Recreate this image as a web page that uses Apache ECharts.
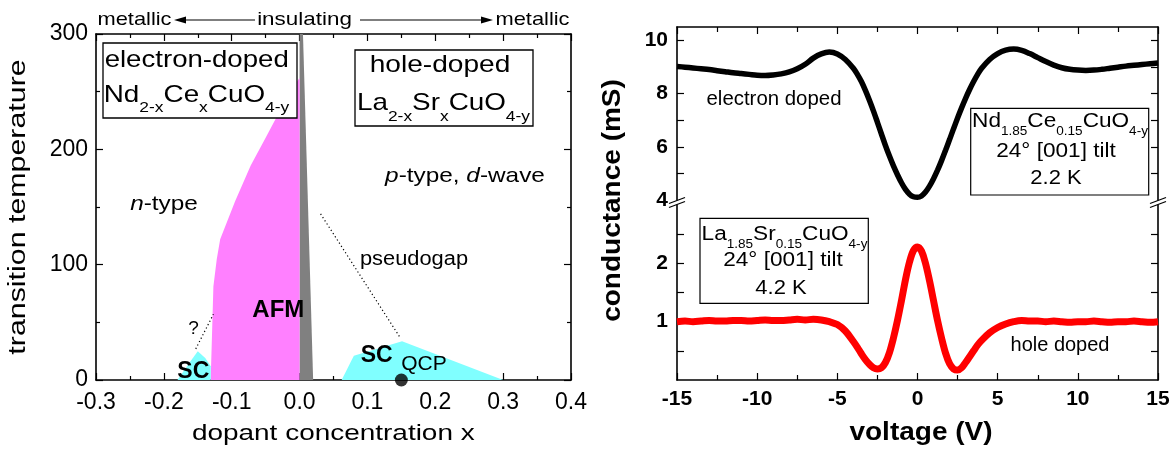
<!DOCTYPE html>
<html>
<head>
<meta charset="utf-8">
<script src="https://cdn.jsdelivr.net/npm/echarts@6/dist/echarts.min.js"></script>
<style>
  html, body { margin: 0; padding: 0; background: #fff; }
  #chart { width: 1174px; height: 453px; }
</style>
</head>
<body>
<div id="chart"></div>
<script>
// ---------- phase diagram (left panel), points as [x, T] ----------
const afmNdCe = [[-0.131, 0], [-0.129, 40], [-0.127, 81], [-0.122, 105], [-0.117, 122], [-0.095, 155],
                 [-0.072, 186], [-0.05, 210], [-0.033, 229], [-0.015, 248], [0, 262], [0, 0]];
const afmLaSr = [[0, 0], [0, 300], [0.005, 300], [0.02, 0]];
const scNdCe  = [[-0.18, 0], [-0.161, 16], [-0.15, 25], [-0.139, 19], [-0.131, 12], [-0.131, 0]];
const scLaSr  = [[0.062, 0], [0.08, 21], [0.151, 33.5], [0.3, 0]];
const pseudogapGuide = [[0.031, 144], [0.149, 36]];
const questionGuide  = [[-0.153, 27], [-0.127, 57]];
const qcpPoint = [[0.15, 0]];

// ---------- tunneling conductance (right panel) ----------
const voltage = [
  -15, -14.5, -14, -13.5, -13, -12.5, -12, -11.5, -11, -10.5, -10, -9.5, -9, -8.5, -8, -7.5, -7, -6.5, -6, -5.5, -5, -4.5,
  -4, -3.75, -3.5, -3.25, -3, -2.75, -2.5, -2.25, -2, -1.75, -1.5, -1.25, -1, -0.75, -0.5, -0.25,
  0, 0.25, 0.5, 0.75, 1, 1.25, 1.5, 1.75, 2, 2.25, 2.5, 2.75, 3, 3.25, 3.5, 3.75, 4,
  4.5, 5, 5.5, 6, 6.5, 7, 7.5, 8, 8.5, 9, 9.5, 10, 10.5, 11, 11.5, 12, 12.5, 13, 13.5, 14, 14.5, 15
];
// Nd1.85Ce0.15CuO4-y, mS
const gElectronDoped = [
  9.02, 8.99, 8.96, 8.93, 8.90, 8.86, 8.82, 8.78, 8.75, 8.72, 8.69, 8.68, 8.70, 8.74, 8.81, 8.93, 9.10, 9.33, 9.49, 9.56, 9.49, 9.28,
  8.95, 8.72, 8.45, 8.12, 7.75, 7.35, 6.92, 6.48, 6.05, 5.65, 5.28, 4.95, 4.65, 4.40, 4.22, 4.12,
  4.10, 4.15, 4.30, 4.52, 4.80, 5.12, 5.48, 5.87, 6.27, 6.68, 7.08, 7.46, 7.82, 8.15, 8.45, 8.72, 8.95,
  9.28, 9.50, 9.63, 9.67, 9.62, 9.50, 9.35, 9.20, 9.07, 8.97, 8.91, 8.88, 8.87, 8.88, 8.91, 8.95, 8.99, 9.03, 9.06, 9.09, 9.12, 9.15
];
// La1.85Sr0.15CuO4-y, mS
const gHoleDoped = [
  1.00, 1.01, 1.00, 1.01, 1.02, 1.01, 1.01, 1.02, 1.02, 1.01, 1.02, 1.03, 1.02, 1.02, 1.03, 1.04, 1.03, 1.04, 1.03, 1.00, 0.95, 0.84,
  0.66, 0.56, 0.45, 0.35, 0.27, 0.21, 0.19, 0.21, 0.30, 0.47, 0.72, 1.02, 1.36, 1.72, 2.02, 2.22,
  2.28, 2.21, 2.00, 1.70, 1.36, 1.02, 0.72, 0.46, 0.28, 0.19, 0.17, 0.21, 0.30, 0.40, 0.50, 0.60, 0.68,
  0.81, 0.90, 0.96, 1.00, 1.02, 1.01, 1.01, 1.00, 1.01, 1.00, 0.99, 1.00, 1.00, 1.01, 1.00, 0.99, 1.00, 1.00, 1.01, 1.00, 0.99, 1.00
];

// axis ticks / labels
const dopingRange = { min: -0.3, max: 0.4, interval: 0.1 };
const tempRange = { min: 0, max: 300, interval: 100 };
const voltRange = { min: -15, max: 15, interval: 5 };
const upperTicks = [5, 6, 7, 8, 9, 10];
const upperLabels = [4, 6, 8, 10];
const lowerTicks = [0.5, 1, 1.5, 2, 2.5];
const lowerLabels = [1, 2];

const FONT = '"Liberation Sans", Arial, Helvetica, sans-serif';
const chart = echarts.init(document.getElementById('chart'), null, { renderer: 'canvas' });

const axLine = { show: true, onZero: false, lineStyle: { color: '#000', width: 1.6 } };
const tickSt = { color: '#000', width: 1.2 };
const noSplit = { show: false };

function fmt1(v) { return (Math.abs(v) < 1e-9 ? 0 : v).toFixed(1); }

function polygonSeries(points, color, z) {
  return {
    type: 'custom', xAxisIndex: 0, yAxisIndex: 0, data: points, z: z, silent: true,
    encode: { x: 0, y: 1 },
    renderItem: function (params, api) {
      if (params.dataIndex !== 0) return null;
      return {
        type: 'polygon',
        shape: { points: points.map(function (p) { return api.coord(p); }) },
        style: { fill: color }
      };
    }
  };
}

function pairs(xs, ys) { return xs.map(function (x, i) { return [x, ys[i]]; }); }

chart.setOption({
  animation: false,
  backgroundColor: '#fff',
  grid: [
    { left: 96, top: 34, width: 475, height: 346, containLabel: false, outerBoundsMode: 'none' },
    { left: 677, top: 27, width: 481, height: 173, containLabel: false, outerBoundsMode: 'none' },
    { left: 677, top: 205, width: 481, height: 175, containLabel: false, outerBoundsMode: 'none' }
  ],
  xAxis: [
    { gridIndex: 0, type: 'value', position: 'bottom', min: dopingRange.min, max: dopingRange.max, interval: dopingRange.interval,
      axisLine: axLine, axisTick: { show: true, inside: true, length: 7, lineStyle: tickSt },
      minorTick: { show: true, splitNumber: 2, length: 4, lineStyle: tickSt },
      axisLabel: { show: true, margin: 11, fontSize: 23, color: '#000', fontFamily: FONT, formatter: fmt1,
                   showMinLabel: true, showMaxLabel: true, hideOverlap: false },
      splitLine: noSplit, minorSplitLine: noSplit },
    { gridIndex: 0, type: 'value', position: 'top', min: dopingRange.min, max: dopingRange.max, interval: dopingRange.interval,
      axisLine: axLine, axisTick: { show: true, inside: true, length: 7, lineStyle: tickSt },
      minorTick: { show: true, splitNumber: 2, length: 4, lineStyle: tickSt },
      axisLabel: { show: false }, splitLine: noSplit, minorSplitLine: noSplit },
    { gridIndex: 1, type: 'value', position: 'top', min: voltRange.min, max: voltRange.max, interval: voltRange.interval,
      axisLine: axLine, axisTick: { show: true, inside: true, length: 7, lineStyle: tickSt },
      minorTick: { show: true, splitNumber: 2, length: 5, lineStyle: tickSt },
      axisLabel: { show: false }, splitLine: noSplit, minorSplitLine: noSplit },
    { gridIndex: 2, type: 'value', position: 'bottom', min: voltRange.min, max: voltRange.max, interval: voltRange.interval,
      axisLine: axLine, axisTick: { show: true, inside: true, length: 7, lineStyle: tickSt },
      minorTick: { show: true, splitNumber: 2, length: 5, lineStyle: tickSt },
      axisLabel: { show: true, margin: 9, fontSize: 21, fontWeight: 'bold', color: '#000', fontFamily: FONT,
                   showMinLabel: true, showMaxLabel: true, hideOverlap: false },
      splitLine: noSplit, minorSplitLine: noSplit }
  ],
  yAxis: [
    { gridIndex: 0, type: 'value', position: 'left', min: tempRange.min, max: tempRange.max, interval: tempRange.interval,
      axisLine: axLine, axisTick: { show: true, inside: true, length: 7, lineStyle: tickSt },
      minorTick: { show: true, splitNumber: 2, length: 4, lineStyle: tickSt },
      axisLabel: { show: true, margin: 8, fontSize: 23, color: '#000', fontFamily: FONT,
                   showMinLabel: true, showMaxLabel: true, hideOverlap: false },
      splitLine: noSplit, minorSplitLine: noSplit },
    { gridIndex: 0, type: 'value', position: 'right', min: tempRange.min, max: tempRange.max, interval: tempRange.interval,
      axisLine: axLine, axisTick: { show: true, inside: true, length: 7, lineStyle: tickSt },
      minorTick: { show: true, splitNumber: 2, length: 4, lineStyle: tickSt },
      axisLabel: { show: false }, splitLine: noSplit, minorSplitLine: noSplit },
    { gridIndex: 1, type: 'value', position: 'left', min: 4, max: 10.5,
      axisLine: axLine, axisTick: { show: true, inside: true, length: 7, lineStyle: tickSt, customValues: upperTicks },
      axisLabel: { show: true, margin: 9, fontSize: 21, fontWeight: 'bold', color: '#000', fontFamily: FONT,
                   customValues: upperLabels, hideOverlap: false },
      splitLine: noSplit },
    { gridIndex: 1, type: 'value', position: 'right', min: 4, max: 10.5,
      axisLine: axLine, axisTick: { show: true, inside: true, length: 7, lineStyle: tickSt, customValues: upperTicks },
      axisLabel: { show: false }, splitLine: noSplit },
    { gridIndex: 2, type: 'value', position: 'left', min: 0, max: 3,
      axisLine: axLine, axisTick: { show: true, inside: true, length: 7, lineStyle: tickSt, customValues: lowerTicks },
      axisLabel: { show: true, margin: 9, fontSize: 21, fontWeight: 'bold', color: '#000', fontFamily: FONT,
                   customValues: lowerLabels, hideOverlap: false },
      splitLine: noSplit },
    { gridIndex: 2, type: 'value', position: 'right', min: 0, max: 3,
      axisLine: axLine, axisTick: { show: true, inside: true, length: 7, lineStyle: tickSt, customValues: lowerTicks },
      axisLabel: { show: false }, splitLine: noSplit }
  ],
  series: [
    polygonSeries(afmLaSr, '#808080', 1),
    polygonSeries(afmNdCe, '#ff80ff', 2),
    polygonSeries(scNdCe, '#80ffff', 2),
    polygonSeries(scLaSr, '#80ffff', 2),
    { type: 'line', xAxisIndex: 0, yAxisIndex: 0, data: pseudogapGuide, symbol: 'none', silent: true, z: 3,
      lineStyle: { color: '#000', width: 1.2, type: [1.2, 2.6] } },
    { type: 'line', xAxisIndex: 0, yAxisIndex: 0, data: questionGuide, symbol: 'none', silent: true, z: 3,
      lineStyle: { color: '#000', width: 1.2, type: [1.2, 2.6] } },
    { type: 'scatter', xAxisIndex: 0, yAxisIndex: 0, data: qcpPoint, symbol: 'circle', symbolSize: 13, clip: false,
      silent: true, z: 4, itemStyle: { color: '#000' } },
    { type: 'line', xAxisIndex: 2, yAxisIndex: 2, data: pairs(voltage, gElectronDoped), showSymbol: false, symbol: 'none',
      smooth: 0.35, silent: true, z: 3, lineStyle: { color: '#000', width: 5.5 } },
    { type: 'line', xAxisIndex: 3, yAxisIndex: 4, data: pairs(voltage, gHoleDoped), showSymbol: false, symbol: 'none',
      smooth: 0.35, silent: true, z: 3, lineStyle: { color: '#ff0000', width: 7 } }
  ]
});

// ---------- text and decorations ----------
const measureCtx = document.createElement('canvas').getContext('2d');
function fontStr(fs, bold, italic) { return (italic ? 'italic ' : '') + (bold ? 'bold ' : '') + fs + 'px ' + FONT; }
function textWidth(t, fs, bold, italic) { measureCtx.font = fontStr(fs, bold, italic); return measureCtx.measureText(t).width; }

// A line of text whose baseline centre sits at (x, y); parts may be subscripts or italic.
function label(parts, x, y, o) {
  o = Object.assign({ fs: 20, subFs: 12, drop: 8, sx: 1, bold: false, rot: 0, align: 'center' }, o || {});
  const items = parts.map(function (p) { return typeof p === 'string' ? { t: p } : p; });
  let total = 0;
  items.forEach(function (p) {
    p.fs = p.sub ? o.subFs : o.fs;
    p.w = textWidth(p.t, p.fs, o.bold, p.it);
    total += p.w;
  });
  let cx = o.align === 'center' ? -total / 2 : 0;
  const children = items.map(function (p) {
    const el = {
      type: 'text', x: cx, y: (p.sub ? o.drop : 0) - 0.35 * p.fs, z: 60, silent: true,
      style: { text: p.t, font: fontStr(p.fs, o.bold, p.it), fill: '#000',
               align: 'left', verticalAlign: 'middle', textAlign: 'left', textVerticalAlign: 'middle' }
    };
    cx += p.w;
    return el;
  });
  return { type: 'group', x: x, y: y, rotation: o.rot, scaleX: o.sx, children: children };
}

function box(x, y, w, h, lw) {
  return { type: 'rect', z: 50, silent: true, shape: { x: x, y: y, width: w, height: h },
           style: { fill: '#fff', stroke: '#000', lineWidth: lw || 1.3 } };
}

function axisBreak(x, y) {
  const d = 2, hx = 8, hy = 3;
  return [
    { type: 'polygon', z: 55, silent: true,
      shape: { points: [[x - hx, y + hy - d], [x + hx, y - hy - d], [x + hx, y - hy + d], [x - hx, y + hy + d]] },
      style: { fill: '#fff' } },
    { type: 'line', z: 56, silent: true, shape: { x1: x - hx, y1: y + hy - d, x2: x + hx, y2: y - hy - d },
      style: { stroke: '#000', lineWidth: 1.3 } },
    { type: 'line', z: 56, silent: true, shape: { x1: x - hx, y1: y + hy + d, x2: x + hx, y2: y - hy + d },
      style: { stroke: '#000', lineWidth: 1.3 } }
  ];
}

const xLeftEdge = chart.convertToPixel({ xAxisIndex: 2 }, voltRange.min);
const xRightEdge = chart.convertToPixel({ xAxisIndex: 2 }, voltRange.max);
const yBreak = (chart.convertToPixel({ yAxisIndex: 2 }, 4) + chart.convertToPixel({ yAxisIndex: 4 }, 3)) / 2;

const ndFormulaGeneric = ['Nd', { t: '2-x', sub: true }, 'Ce', { t: 'x', sub: true }, 'CuO', { t: '4-y', sub: true }];
const laFormulaGeneric = ['La', { t: '2-x', sub: true }, 'Sr', { t: 'x', sub: true }, 'CuO', { t: '4-y', sub: true }];
const ndFormula = ['Nd', { t: '1.85', sub: true }, 'Ce', { t: '0.15', sub: true }, 'CuO', { t: '4-y', sub: true }];
const laFormula = ['La', { t: '1.85', sub: true }, 'Sr', { t: '0.15', sub: true }, 'CuO', { t: '4-y', sub: true }];

const elements = [
  // doping regimes along the top
  label(['metallic'], 134.5, 26.7, { fs: 19, sx: 1.15 }),
  label(['insulating'], 304.5, 26.7, { fs: 19, sx: 1.18 }),
  label(['metallic'], 532.5, 26.7, { fs: 19, sx: 1.15 }),
  { type: 'line', z: 60, silent: true, shape: { x1: 255, y1: 20, x2: 183, y2: 20 }, style: { stroke: '#000', lineWidth: 1.2 } },
  { type: 'polygon', z: 60, silent: true, shape: { points: [[174, 20], [186, 16.5], [186, 23.5]] }, style: { fill: '#000' } },
  { type: 'line', z: 60, silent: true, shape: { x1: 360, y1: 20, x2: 484, y2: 20 }, style: { stroke: '#000', lineWidth: 1.2 } },
  { type: 'polygon', z: 60, silent: true, shape: { points: [[493, 20], [481, 16.5], [481, 23.5]] }, style: { fill: '#000' } },

  // compound boxes
  box(103, 43, 194, 75),
  label(['electron-doped'], 196.7, 68.3, { fs: 24, sx: 1.15 }),
  label(ndFormulaGeneric, 196.5, 103.3, { fs: 24, subFs: 15, drop: 10, sx: 1.16 }),
  box(355, 50, 178, 76),
  label(['hole-doped'], 440, 73.3, { fs: 24, sx: 1.17 }),
  label(laFormulaGeneric, 443.5, 111.7, { fs: 24, subFs: 15, drop: 10, sx: 1.16 }),

  // phase labels
  label([{ t: 'n', it: true }, '-type'], 164, 211.7, { fs: 21, sx: 1.16 }),
  label([{ t: 'p', it: true }, '-type, ', { t: 'd', it: true }, '-wave'], 465, 183.3, { fs: 21, sx: 1.16 }),
  label(['pseudogap'], 414, 266.7, { fs: 19.5, sx: 1.12 }),
  label(['AFM'], 278.3, 318.3, { fs: 24, bold: true }),
  label(['SC'], 193.3, 379.5, { fs: 23, bold: true }),
  label(['SC'], 376.7, 363.3, { fs: 23, bold: true }),
  label(['QCP'], 424, 371.7, { fs: 21 }),
  label(['?'], 193.5, 335, { fs: 19 }),

  // axis titles
  label(['transition temperature'], 26.9, 207, { fs: 23, sx: 1.32, rot: Math.PI / 2 }),
  label(['dopant concentration x'], 333.3, 441.7, { fs: 21.5, sx: 1.3 }),
  label(['conductance (mS)'], 621.7, 200.5, { fs: 25, sx: 1.12, bold: true, rot: Math.PI / 2 }),
  label(['voltage (V)'], 921, 441.7, { fs: 25, sx: 1.12, bold: true }),

  // conductance annotations
  label(['electron doped'], 774, 106.7, { fs: 20, sx: 1.02 }),
  label(['hole doped'], 1060, 352.7, { fs: 20 }),
  box(970.7, 108.3, 178, 86.7, 1.2),
  label(ndFormula, 1060, 128.3, { fs: 20, subFs: 12, drop: 8, sx: 1.13 }),
  label(['24° [001] tilt'], 1056, 158.3, { fs: 20, sx: 1.13 }),
  label(['2.2 K'], 1056, 185, { fs: 20, sx: 1.1 }),
  box(700, 218.3, 168.3, 85, 1.2),
  label(laFormula, 784.5, 241, { fs: 20, subFs: 12, drop: 8, sx: 1.13 }),
  label(['24° [001] tilt'], 783, 267.3, { fs: 20, sx: 1.13 }),
  label(['4.2 K'], 781, 295, { fs: 20, sx: 1.1 })
].concat(axisBreak(xLeftEdge, yBreak), axisBreak(xRightEdge, yBreak));

chart.setOption({ graphic: { elements: elements } });
</script>
</body>
</html>
